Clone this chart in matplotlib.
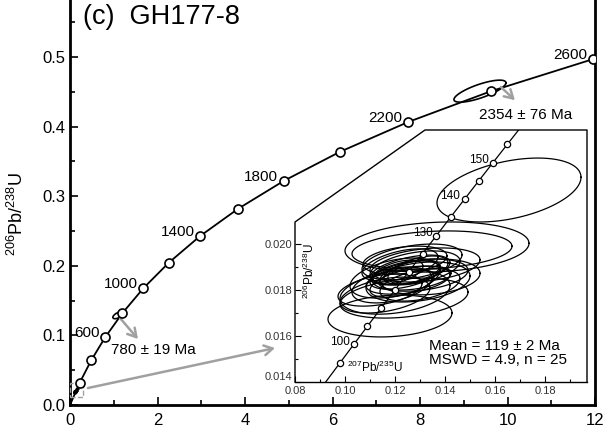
import numpy as np
import matplotlib
matplotlib.use('Agg')
import matplotlib.pyplot as plt
from matplotlib.patches import Polygon, Rectangle
from matplotlib.lines import Line2D

plt.rcParams['font.family'] = ['Liberation Sans', 'DejaVu Sans']
plt.rcParams['mathtext.default'] = 'regular'

# concordia age marks, main plot (Ma) and their 207Pb/235U, 206Pb/238U positions
main_ages = [200, 400, 600, 800, 1000, 1200, 1400, 1600, 1800, 2000, 2200, 2400, 2600]
main_x = [0.218, 0.483, 0.806, 1.199, 1.677, 2.260, 2.970, 3.835, 4.887, 6.169, 7.730, 9.630, 11.944]
main_y = [0.0315, 0.0640, 0.0975, 0.1321, 0.1678, 0.2046, 0.2426, 0.2817, 0.3221, 0.3638, 0.4067, 0.4511, 0.4968]
main_labels = [600, 1000, 1400, 1800, 2200, 2600]

# concordia age marks, inset (Ma)
ins_ages = [85, 90, 95, 100, 105, 110, 115, 120, 125, 130, 135, 140, 145, 150, 155, 160]
ins_x = [0.08732, 0.09268, 0.09808, 0.10350, 0.10894, 0.11442, 0.11992, 0.12545, 0.13100,
         0.13659, 0.14220, 0.14783, 0.15350, 0.15919, 0.16492, 0.17067]
ins_y = [0.013273, 0.014059, 0.014846, 0.015633, 0.016422, 0.017210, 0.018000, 0.018789, 0.019580,
         0.020371, 0.021163, 0.021955, 0.022748, 0.023542, 0.024336, 0.025131]
ins_labels = [100, 130, 140, 150]

# inset zircon ellipses: centre, half-widths and correlation
ell_x = [0.1656, 0.1368, 0.1348, 0.1180, 0.1236, 0.1292, 0.1200, 0.1160, 0.1260, 0.1280,
         0.1240, 0.1300, 0.1220, 0.1268, 0.1252, 0.1228, 0.1292, 0.1200, 0.1320, 0.1268,
         0.1212, 0.1280, 0.1188, 0.1240, 0.1300, 0.1140, 0.1340]
ell_y = [0.02235, 0.01987, 0.01974, 0.01687, 0.01765, 0.01835, 0.01791, 0.01778, 0.01887, 0.01896,
         0.01865, 0.01865, 0.01909, 0.01922, 0.01843, 0.01830, 0.01887, 0.01852, 0.01909, 0.01878,
         0.01878, 0.01852, 0.01822, 0.01930, 0.01822, 0.01800, 0.01857]
ell_rx = [0.0288, 0.0368, 0.0320, 0.0248, 0.0256, 0.0208, 0.0220, 0.0180, 0.0160, 0.0180,
          0.0140, 0.0192, 0.0152, 0.0200, 0.0168, 0.0128, 0.0120, 0.0180, 0.0220, 0.0112,
          0.0100, 0.0144, 0.0160, 0.0168, 0.0160, 0.0168, 0.0200]
ell_ry = [0.00139, 0.00109, 0.00083, 0.00091, 0.00087, 0.00087, 0.00096, 0.00078, 0.00065, 0.00074,
          0.00061, 0.00070, 0.00070, 0.00078, 0.00061, 0.00061, 0.00061, 0.00087, 0.00074, 0.00052,
          0.00052, 0.00052, 0.00078, 0.00061, 0.00070, 0.00070, 0.00078]
ell_rho = [0.4, 0.15, 0.2, 0.15, 0.3, 0.3, 0.3, 0.4, 0.5, 0.4,
           0.5, 0.3, 0.5, 0.4, 0.4, 0.5, 0.5, 0.4, 0.3, 0.5,
           0.5, 0.4, 0.4, 0.3, 0.4, 0.4, 0.2]

# old inherited grains on the main plot
old_ell = dict(x=[9.37, 1.10], y=[0.451, 0.129], rx=[0.594, 0.12], ry=[0.0158, 0.005], rho=[0.76, 0.6])


def ellipse_xy(cx, cy, rx, ry, rho, n=120):
    t = np.linspace(0, 2 * np.pi, n)
    x = cx + rx * np.cos(t)
    y = cy + ry * (rho * np.cos(t) + np.sqrt(1 - rho ** 2) * np.sin(t))
    return x, y


W, H = 607, 433
fig = plt.figure(figsize=(W / 100, H / 100), dpi=100)
ax = fig.add_axes([70 / W, 28 / H, 525 / W, 1 - 28 / H])

# main concordia
ax.plot([0] + main_x, [0] + main_y, color='k', lw=1.3, zorder=2)
ax.plot(main_x, main_y, 'o', ms=6.5, mfc='white', mec='k', mew=1.2, zorder=4)
for a, x, y in zip(main_ages, main_x, main_y):
    if a in main_labels:
        ax.annotate(str(a), (x, y), xytext=(-4, 3), textcoords='offset points',
                    ha='right', va='center', fontsize=11)

for cx, cy, rx, ry, rho in zip(old_ell['x'], old_ell['y'], old_ell['rx'], old_ell['ry'], old_ell['rho']):
    ex, ey = ellipse_xy(cx, cy, rx, ry, rho)
    ax.plot(ex, ey, color='k', lw=1.2, zorder=3)

# tiny young cluster near the origin
for cx, cy, rx, ry, rho in zip(ell_x, ell_y, ell_rx, ell_ry, ell_rho):
    ex, ey = ellipse_xy(cx, cy, rx, ry, rho)
    ax.plot(ex, ey, color='k', lw=1.2, zorder=3)
ax.add_patch(Rectangle((0.0, 0.0115), 0.3, 0.02, fill=False, ls='--', ec='#a0a0a0', lw=1.0, zorder=3))

gray = '#a0a0a0'
arrow = dict(arrowstyle='->,head_length=0.6,head_width=0.35', color=gray, lw=1.8, shrinkA=0, shrinkB=0)
ax.annotate('', xy=(10.17, 0.438), xytext=(9.85, 0.457), arrowprops=arrow)
ax.annotate('', xy=(1.554, 0.0948), xytext=(1.143, 0.125), arrowprops=arrow)
ax.annotate('', xy=(4.686, 0.0819), xytext=(0.411, 0.0244), arrowprops=arrow)
ax.text(10.41, 0.4167, '2354 ± 76 Ma', ha='center', va='center', fontsize=11)
ax.text(1.909, 0.079, '780 ± 19 Ma', ha='center', va='center', fontsize=11)

ax.set_xlim(0, 12)
ax.set_ylim(0, 0.582)
ax.set_xticks(np.arange(0, 13, 2))
ax.set_xticks(np.arange(1, 12, 2), minor=True)
ax.set_yticks(np.arange(0, 0.51, 0.1))
ax.set_yticks(np.arange(0.05, 0.58, 0.1), minor=True)
ax.set_yticklabels(['0.0', '0.1', '0.2', '0.3', '0.4', '0.5'])
ax.tick_params(which='both', direction='in', labelsize=12, width=1.2)
ax.tick_params(which='major', length=6)
ax.tick_params(which='minor', length=3.5)
ax.tick_params(axis='x', pad=6)
ax.spines['top'].set_visible(False)
for s in ['left', 'bottom', 'right']:
    ax.spines[s].set_linewidth(2)

fig.text(17 / W, 1 - 214 / H, '$^{206}$Pb/$^{238}$U', rotation=90, ha='center', va='center', fontsize=13)
fig.text(83 / W, 1 - 24 / H, '(c)  GH177-8', ha='left', va='baseline', fontsize=19.5)

# inset
ins = fig.add_axes([295 / W, (H - 382) / H, 292 / W, 252 / H])
ins.set_facecolor('none')
cut_y = (382 - 222) / 252
cut_x = (425 - 295) / 292
frame = [(0, 0), (0, cut_y), (cut_x, 1), (1, 1), (1, 0)]
ins.add_patch(Polygon(frame, closed=True, transform=ins.transAxes, fc='white', ec='none',
                      zorder=0, clip_on=False))
ins.add_line(Line2D([0, 0, cut_x, 1, 1], [0, cut_y, 1, 1, 0], transform=ins.transAxes,
                    color='k', lw=1.0, clip_on=False, zorder=5))
for s in ['left', 'top', 'right']:
    ins.spines[s].set_visible(False)
ins.spines['bottom'].set_linewidth(1.0)

ins.plot(ins_x, ins_y, color='k', lw=0.9, zorder=3)
ins.plot(ins_x[2:-1], ins_y[2:-1], 'o', ms=4.5, mfc='white', mec='k', mew=0.9, zorder=4)
for a, x, y in zip(ins_ages, ins_x, ins_y):
    if a in ins_labels:
        ins.annotate(str(a), (x, y), xytext=(-3, 2), textcoords='offset points',
                     ha='right', va='center', fontsize=8.5)
for cx, cy, rx, ry, rho in zip(ell_x, ell_y, ell_rx, ell_ry, ell_rho):
    ex, ey = ellipse_xy(cx, cy, rx, ry, rho)
    ins.plot(ex, ey, color='k', lw=0.9, zorder=3)

ins.set_xlim(0.08, 0.1968)
ins.set_ylim(0.014, 0.02496)
ins.set_xticks(np.arange(0.08, 0.19, 0.02))
ins.set_xticks(np.arange(0.09, 0.196, 0.02), minor=True)
ins.set_yticks([0.014, 0.016, 0.018, 0.020])
ins.set_yticks([0.015, 0.017, 0.019], minor=True)
ins.set_xticklabels(['0.08', '0.10', '0.12', '0.14', '0.16', '0.18'])
ins.set_yticklabels(['0.014', '0.016', '0.018', '0.020'])
ins.tick_params(which='both', direction='in', labelsize=8, labelcolor='#333333', width=0.8)
ins.tick_params(axis='x', pad=3)
ins.tick_params(axis='y', pad=2)
ins.tick_params(which='major', length=4)
ins.tick_params(which='minor', length=2.5)
ins.get_yticklabels()[0].set_va('bottom')

ins.text(0.05, 0.44, '$^{206}$Pb/$^{238}$U', transform=ins.transAxes, rotation=90,
         ha='center', va='center', fontsize=8.5)
ins.text(0.178, 0.056, '$^{207}$Pb/$^{235}$U', transform=ins.transAxes,
         ha='left', va='center', fontsize=8.5)
ins.text(0.46, 0.115, 'Mean = 119 ± 2 Ma\nMSWD = 4.9, n = 25', transform=ins.transAxes,
         ha='left', va='center', fontsize=11, linespacing=1.05)

fig.savefig('out.png', dpi=100)
